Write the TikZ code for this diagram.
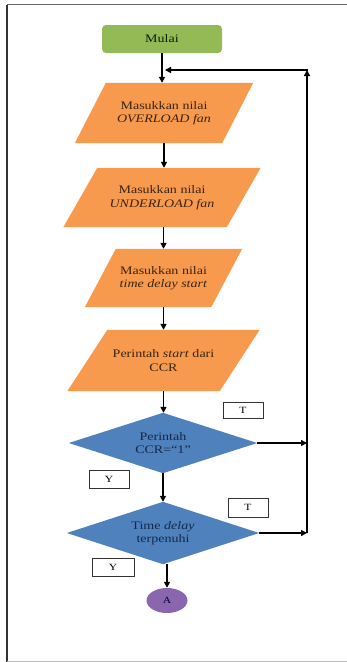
\documentclass[tikz,border=0pt]{standalone}
\usepackage{fontspec}
\setmainfont{Liberation Serif}[FakeStretch=1.22]
\usetikzlibrary{shapes.geometric,arrows.meta,backgrounds}
\definecolor{startgreen}{HTML}{93BA55}
\definecolor{paraorange}{HTML}{F79A4E}
\definecolor{decblue}{HTML}{4F81BD}
\definecolor{endpurple}{HTML}{8A66AE}
\definecolor{paratext}{HTML}{3A2412}
\definecolor{dectext}{HTML}{14284A}
\tikzset{
  arr/.style={line width=1.8pt, -{Triangle[length=6pt,width=6pt]}},
  txt/.style={font=\fontsize{11.5}{13.5}\selectfont, align=center, inner sep=0pt},
  tbox/.style={draw=black!80, line width=0.7pt, fill=white, font=\fontsize{9.5}{10}\selectfont, inner sep=0pt},
}
\newcommand\mypara[7]{%
  \node[txt, text=paratext, minimum width=#4, minimum height=#5] (#1) at (#2,#3) {#7};
  \begin{scope}[on background layer]
    \fill[paraorange] ([xshift=-#6]#1.south west) -- ([xshift=-#6]#1.south east)
      -- ([xshift=#6]#1.north east) -- ([xshift=#6]#1.north west) -- cycle;
  \end{scope}}
\newcommand\mydec[6]{%
  \node[txt, text=dectext, minimum width=#4, minimum height=#5] (#1) at (#2,#3) {#6};
  \begin{scope}[on background layer]
    \fill[decblue] (#1.north) -- (#1.east) -- (#1.south) -- (#1.west) -- cycle;
  \end{scope}}
\begin{document}
\begin{tikzpicture}[x=1pt,y=-1pt]
\useasboundingbox (0,0) rectangle (347,662);
% frame
\draw[black!80, line width=1.3pt] (7,662) -- (7,4.5);
\draw[black!60, line width=1pt] (7,4.5) -- (347,4.5);
\draw[black!25, line width=0.8pt] (7,661.5) -- (347,661.5);

\node[txt, fill=startgreen, rounded corners=4pt, minimum width=120, minimum height=28, text=black!85!green] (mulai) at (162,39) {Mulai};

\mypara{p1}{164}{113}{147}{60}{15.5}{Masukkan nilai\\\textit{OVERLOAD fan}}
\mypara{p2}{162}{197.5}{163}{59}{17}{Masukkan nilai\\\textit{UNDERLOAD fan}}
\mypara{p3}{163.5}{278}{126}{58}{15.5}{Masukkan nilai\\\textit{time delay start}}
\mypara{p4}{163.5}{360.5}{152}{61}{20}{Perintah \textit{start} dari\\CCR}

\mydec{d1}{163}{443}{188}{60}{Perintah\\CCR=“1”}
\mydec{d2}{163}{533}{192}{62}{Time \textit{delay}\\terpenuhi}

\node[ellipse, fill=endpurple, minimum width=41, minimum height=25, inner sep=0pt, font=\fontsize{9.5}{10}\selectfont, text=black!80!blue] (A) at (167,600.5) {A};

\node[tbox, minimum width=40, minimum height=16] (t1) at (243,410) {T};
\node[tbox, minimum width=40, minimum height=18] (y1) at (109,479) {Y};
\node[tbox, minimum width=40, minimum height=19] (t2) at (248,507.5) {T};
\node[tbox, minimum width=42, minimum height=18] (y2) at (113,567) {Y};

\coordinate (L1) at (307,70);
\coordinate (L2) at (307,533);
\coordinate (J) at (165,70);

\draw[arr] (mulai.south) -- (mulai.south |- p1.north);
\draw[arr] (p1.north |- p1.south) -- (p1.north |- p2.north);
\draw[arr] (p3.north |- p2.south) -- (p3.north);
\draw[arr] (p3.south) -- (p3.south |- p4.north);
\draw[arr] (p4.south) -- (p4.south |- d1.north);
\draw[arr] (d2.north |- d1.south) -- (d2.north);
\draw[arr] (A.north |- d2.south) -- (A.north);

\draw[arr] (d1.east) -- (d1.east -| L2);
\draw[arr] (d2.east) -- (L2);
\draw[arr] (L2) -- (L1);
\draw[arr] ([xshift=0.9pt]L1) -- (J);
\end{tikzpicture}
\end{document}
